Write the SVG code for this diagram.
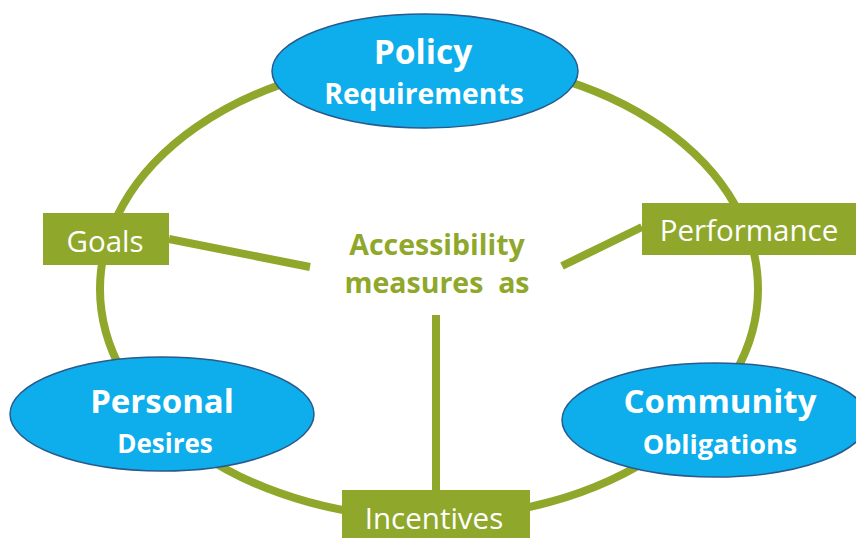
<svg xmlns="http://www.w3.org/2000/svg" width="856" height="538" viewBox="0 0 856 538">
  <style>
    .ring { fill: none; stroke: #8FA82B; stroke-width: 8; }
    .link { stroke: #8FA82B; stroke-width: 8; stroke-linecap: butt; }
    .oval { fill: #0DAEEB; stroke: #2A5A8C; stroke-width: 1.5; }
    .box { fill: #8FA82B; }
    .big { font-family: "Open Sans", "Liberation Sans", sans-serif; font-weight: bold; fill: #FFFFFF; text-anchor: middle; }
    .lbl { font-family: "Open Sans", "Liberation Sans", sans-serif; fill: #FFFFFF; text-anchor: middle; font-size: 29.5px; }
    .hub { font-family: "Open Sans", "Liberation Sans", sans-serif; font-weight: bold; fill: #8FA82B; text-anchor: middle; font-size: 28.5px; }
  </style>
  <rect width="856" height="538" fill="#FFFFFF"/>

  <!-- outer loop joining the four corners -->
  <ellipse class="ring" cx="429" cy="289" rx="329" ry="229"/>

  <!-- spokes from the centre phrase -->
  <g id="connectors">
    <line class="link" x1="169" y1="239" x2="310" y2="267"/>
    <line class="link" x1="642" y1="227" x2="562" y2="266"/>
    <line class="link" x1="436" y1="315" x2="436" y2="491"/>
  </g>

  <g id="hub">
    <text class="hub" x="437" y="255">Accessibility</text>
    <text class="hub" x="437" y="293" xml:space="preserve">measures  as</text>
  </g>

  <g id="policy">
    <ellipse class="oval" cx="425" cy="71" rx="153" ry="57"/>
    <text class="big" x="423" y="64" font-size="33.5">Policy</text>
    <text class="big" x="424" y="104" font-size="28.3">Requirements</text>
  </g>

  <g id="personal">
    <ellipse class="oval" cx="162" cy="414" rx="152" ry="57"/>
    <text class="big" x="162" y="413" font-size="33">Personal</text>
    <text class="big" x="165" y="453" font-size="26">Desires</text>
  </g>

  <g id="community">
    <ellipse class="oval" cx="715" cy="420" rx="153" ry="57"/>
    <text class="big" x="720" y="413" font-size="33">Community</text>
    <text class="big" x="720" y="454" font-size="27">Obligations</text>
  </g>

  <g id="goals">
    <rect class="box" x="43" y="213" width="126" height="52"/>
    <text class="lbl" x="105" y="252">Goals</text>
  </g>

  <g id="performance">
    <rect class="box" x="642" y="203" width="214" height="52"/>
    <text class="lbl" x="749" y="241">Performance</text>
  </g>

  <g id="incentives">
    <rect class="box" x="342" y="490" width="188" height="52"/>
    <text class="lbl" x="434" y="529">Incentives</text>
  </g>
</svg>
